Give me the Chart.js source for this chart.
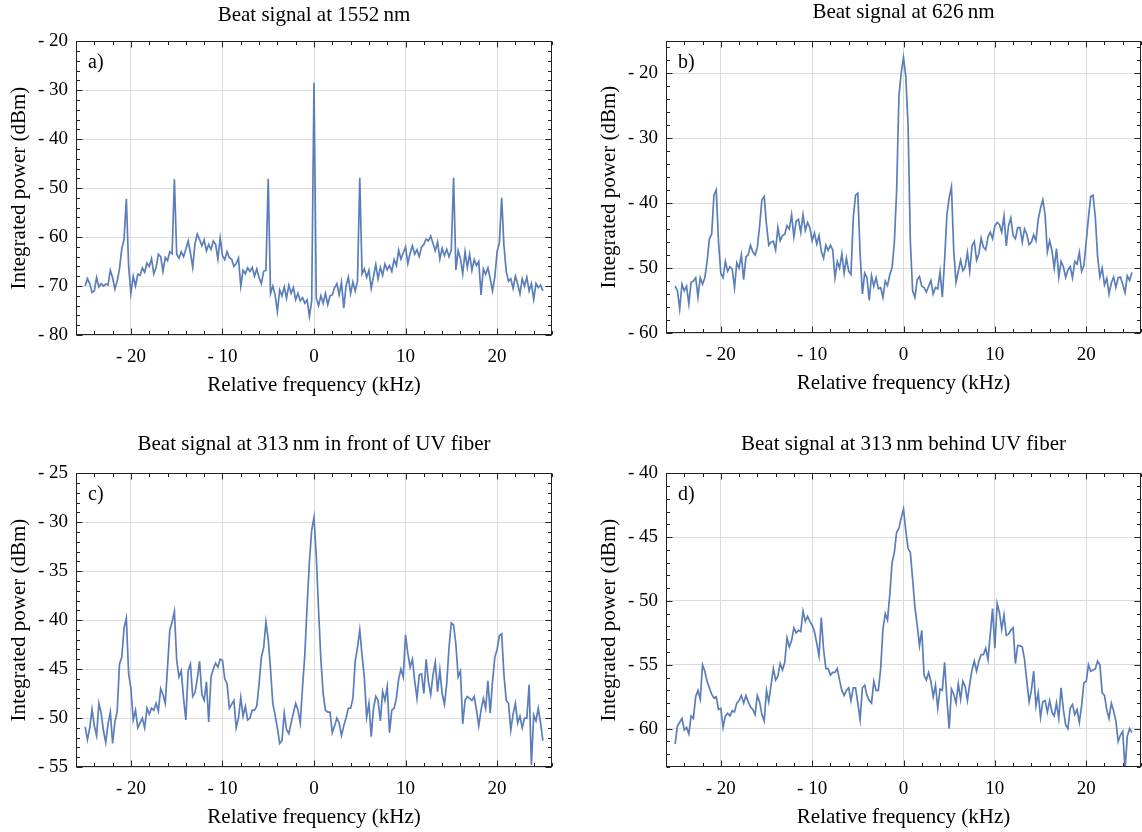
<!DOCTYPE html>
<html lang="en">
<head>
<meta charset="UTF-8">
<title>Beat signals</title>
<script src="https://cdn.jsdelivr.net/npm/chart.js"></script>
<style>
  body { margin: 0; background: #fff; }
  #page { position: relative; width: 1142px; height: 832px; overflow: hidden; }
  .panel { position: absolute; width: 571px; height: 416px; }
</style>
</head>
<body>
<div id="page">
  <div class="panel" style="left:0;top:0"><canvas id="chartA"></canvas></div>
  <div class="panel" style="left:571px;top:0"><canvas id="chartB"></canvas></div>
  <div class="panel" style="left:0;top:416px"><canvas id="chartC"></canvas></div>
  <div class="panel" style="left:571px;top:416px"><canvas id="chartD"></canvas></div>
</div>
<script>
// relative frequency grid (kHz)
const freq = [
  -25,-24.75,-24.5,-24.25,-24,-23.75,-23.5,-23.25,-23,-22.75,-22.5,-22.25,-22,-21.75,-21.5,-21.25,-21,-20.75,-20.5,-20.25,
  -20,-19.75,-19.5,-19.25,-19,-18.75,-18.5,-18.25,-18,-17.75,-17.5,-17.25,-17,-16.75,-16.5,-16.25,-16,-15.75,-15.5,-15.25,
  -15,-14.75,-14.5,-14.25,-14,-13.75,-13.5,-13.25,-13,-12.75,-12.5,-12.25,-12,-11.75,-11.5,-11.25,-11,-10.75,-10.5,-10.25,
  -10,-9.75,-9.5,-9.25,-9,-8.75,-8.5,-8.25,-8,-7.75,-7.5,-7.25,-7,-6.75,-6.5,-6.25,-6,-5.75,-5.5,-5.25,
  -5,-4.75,-4.5,-4.25,-4,-3.75,-3.5,-3.25,-3,-2.75,-2.5,-2.25,-2,-1.75,-1.5,-1.25,-1,-0.75,-0.5,-0.25,
  0,
  0.25,0.5,0.75,1,1.25,1.5,1.75,2,2.25,2.5,2.75,3,3.25,3.5,3.75,4,4.25,4.5,4.75,5,
  5.25,5.5,5.75,6,6.25,6.5,6.75,7,7.25,7.5,7.75,8,8.25,8.5,8.75,9,9.25,9.5,9.75,10,
  10.25,10.5,10.75,11,11.25,11.5,11.75,12,12.25,12.5,12.75,13,13.25,13.5,13.75,14,14.25,14.5,14.75,15,
  15.25,15.5,15.75,16,16.25,16.5,16.75,17,17.25,17.5,17.75,18,18.25,18.5,18.75,19,19.25,19.5,19.75,20,
  20.25,20.5,20.75,21,21.25,21.5,21.75,22,22.25,22.5,22.75,23,23.25,23.5,23.75,24,24.25,24.5,24.75,25
];

// integrated power (dBm), 1552 nm
const powerA = [
  -70.0,-68.5,-69.5,-71.3,-71.0,-68.3,-70.2,-69.5,-70.0,-69.6,-69.8,-66.8,-68.3,-70.6,-69.0,-66.5,-62.4,-60.5,-52.2,-66.0,
  -71.5,-68.0,-70.0,-67.6,-67.8,-66.3,-67.2,-65.3,-66.0,-64.4,-67.5,-66.2,-63.5,-64.0,-67.0,-64.2,-64.8,-63.0,-63.4,-48.2,
  -63.5,-64.3,-63.0,-64.0,-62.5,-60.8,-63.2,-66.2,-61.3,-59.4,-60.5,-61.8,-60.6,-62.8,-61.5,-62.5,-60.8,-61.5,-64.5,-60.2,
  -63.8,-64.6,-63.0,-64.2,-64.5,-66.0,-65.4,-64.3,-70.0,-66.8,-67.5,-66.3,-67.0,-66.2,-68.0,-66.5,-68.3,-69.5,-67.0,-66.8,
  -48.1,-71.5,-70.0,-71.8,-75.2,-70.8,-72.0,-70.2,-72.5,-69.8,-71.5,-70.3,-72.8,-71.5,-73.0,-72.4,-73.5,-72.8,-76.2,-73.0,
  -28.5,
  -72.5,-74.0,-72.0,-73.5,-71.5,-73.8,-72.0,-71.8,-70.3,-69.5,-71.8,-69.2,-74.5,-70.0,-68.2,-71.5,-69.2,-71.0,-69.0,-47.9,
  -67.5,-66.5,-68.2,-66.8,-70.5,-68.0,-65.6,-68.5,-66.2,-67.8,-65.5,-66.7,-65.8,-67.0,-64.6,-65.8,-62.7,-64.5,-63.2,-62.0,
  -65.4,-63.3,-61.8,-63.5,-62.6,-64.0,-62.0,-61.5,-60.4,-60.8,-59.8,-61.3,-62.8,-61.0,-64.5,-62.3,-63.8,-62.5,-64.0,-62.6,
  -47.9,-66.7,-62.8,-64.4,-67.5,-63.0,-66.2,-63.5,-66.8,-64.6,-65.8,-65.0,-71.8,-66.5,-67.6,-66.3,-68.5,-71.0,-68.2,-63.0,
  -61.2,-52.0,-61.7,-67.0,-69.0,-68.5,-70.5,-68.0,-69.6,-71.6,-68.5,-70.0,-68.2,-71.0,-69.5,-72.7,-69.5,-70.3,-69.8,-71.0
];

// 626 nm
const powerB = [
  -52.8,-53.5,-56.3,-52.5,-53.5,-52.8,-55.5,-52.2,-52.0,-51.5,-54.5,-51.5,-52.5,-51.5,-49.0,-45.5,-44.8,-38.8,-38.0,-46.0,
  -50.8,-51.5,-49.0,-50.5,-49.8,-50.2,-53.0,-49.2,-50.0,-48.0,-51.8,-48.3,-48.0,-46.5,-47.5,-48.0,-46.8,-43.5,-39.5,-39.0,
  -43.3,-46.5,-46.0,-45.9,-47.2,-43.8,-45.8,-45.0,-44.8,-43.5,-44.0,-41.8,-45.2,-42.8,-42.5,-44.5,-41.8,-44.2,-43.0,-43.8,
  -45.8,-44.6,-46.3,-45.0,-47.4,-48.5,-46.5,-47.3,-46.5,-47.2,-51.5,-49.0,-50.0,-47.8,-50.8,-48.5,-50.5,-51.0,-42.3,-38.8,
  -38.5,-47.8,-54.0,-50.8,-51.5,-55.0,-51.2,-52.8,-51.5,-53.2,-53.0,-54.5,-52.0,-52.7,-51.0,-50.0,-46.0,-38.0,-23.5,-20.0,
  -17.6,
  -20.5,-28.0,-46.0,-53.5,-54.5,-51.8,-51.3,-52.8,-53.0,-53.7,-52.8,-51.9,-54.0,-53.0,-53.2,-50.6,-54.5,-48.8,-41.8,-39.2,
  -37.5,-47.4,-52.2,-50.5,-48.8,-50.4,-49.8,-47.6,-50.5,-46.6,-45.9,-48.8,-47.8,-45.4,-46.8,-47.2,-45.2,-44.5,-45.5,-43.5,
  -43.0,-43.3,-44.5,-42.0,-46.6,-43.5,-42.3,-45.0,-45.5,-43.8,-43.8,-46.0,-44.0,-44.8,-46.4,-46.0,-44.9,-45.8,-42.5,-40.8,
  -39.5,-41.8,-47.5,-45.8,-47.3,-50.0,-47.0,-51.4,-49.0,-49.8,-51.4,-50.3,-49.8,-51.5,-49.0,-49.4,-47.6,-50.5,-49.6,-46.0,
  -42.2,-39.0,-38.8,-42.2,-48.3,-51.4,-50.0,-52.6,-51.6,-54.0,-52.3,-51.4,-53.0,-51.5,-51.4,-52.5,-53.8,-51.2,-51.9,-50.7
];

// 313 nm in front of UV fiber
const powerC = [
  -50.9,-52.2,-51.0,-49.1,-50.8,-51.8,-48.5,-49.5,-51.3,-52.5,-50.6,-49.4,-52.6,-50.4,-49.3,-44.5,-43.8,-40.8,-39.8,-45.5,
  -47.0,-50.2,-49.2,-51.0,-50.5,-50.0,-51.0,-49.0,-49.6,-49.0,-49.2,-48.5,-49.3,-47.0,-47.6,-48.5,-44.8,-41.0,-40.2,-39.1,
  -44.1,-45.8,-45.2,-48.0,-50.2,-45.2,-44.5,-47.8,-47.4,-46.0,-44.2,-47.6,-48.2,-46.3,-50.4,-45.8,-45.0,-44.4,-44.8,-44.0,
  -44.1,-46.0,-46.5,-49.0,-48.6,-48.2,-51.0,-50.0,-47.9,-49.8,-48.8,-50.2,-50.0,-49.2,-49.2,-48.8,-46.5,-43.8,-42.8,-40.2,
  -42.0,-45.0,-48.5,-49.7,-51.0,-52.6,-52.3,-49.5,-51.2,-51.6,-50.5,-49.5,-48.5,-49.2,-50.5,-46.8,-43.5,-38.5,-34.0,-30.8,
  -29.5,
  -33.5,-39.0,-44.0,-47.5,-49.2,-49.4,-49.4,-51.5,-50.8,-50.0,-50.5,-51.8,-50.8,-50.0,-49.0,-49.0,-48.0,-44.2,-42.8,-41.0,
  -43.6,-45.9,-49.9,-48.5,-51.9,-49.0,-47.8,-48.2,-50.3,-47.3,-48.2,-46.8,-51.5,-49.2,-49.0,-48.0,-46.0,-45.0,-45.8,-41.5,
  -43.4,-44.8,-44.0,-46.2,-48.0,-45.6,-45.5,-47.5,-44.0,-46.3,-47.6,-45.6,-44.3,-47.3,-45.1,-47.5,-48.6,-46.5,-42.8,-40.3,
  -40.5,-42.5,-45.8,-45.2,-50.6,-48.2,-47.8,-48.0,-48.2,-47.8,-49.2,-50.8,-49.2,-48.0,-49.0,-46.2,-49.5,-46.3,-43.8,-43.0,
  -41.6,-41.4,-45.6,-48.2,-48.5,-51.2,-49.6,-48.5,-50.5,-49.8,-51.0,-50.0,-50.0,-46.6,-54.8,-49.7,-50.3,-49.0,-50.5,-52.3
];

// 313 nm behind UV fiber
const powerD = [
  -61.2,-59.8,-59.5,-59.2,-60.1,-59.9,-60.4,-59.0,-59.2,-57.5,-57.0,-57.7,-55.0,-55.5,-56.3,-56.8,-57.3,-57.6,-57.5,-58.5,
  -58.4,-59.9,-59.0,-58.8,-59.0,-58.6,-58.7,-58.0,-57.8,-57.4,-58.0,-57.4,-57.9,-58.3,-58.5,-58.9,-57.4,-57.9,-58.9,-59.4,
  -57.0,-57.9,-56.6,-55.3,-56.2,-55.9,-54.9,-55.4,-54.8,-52.9,-53.6,-53.1,-52.1,-52.5,-52.3,-52.4,-50.8,-51.6,-51.2,-51.6,
  -51.9,-52.4,-53.3,-54.3,-51.3,-53.8,-55.3,-55.3,-55.8,-55.6,-55.6,-55.3,-56.2,-57.0,-57.4,-57.0,-56.8,-57.8,-56.8,-56.8,
  -58.0,-59.3,-56.8,-56.6,-57.4,-57.8,-58.0,-56.3,-57.0,-57.0,-55.3,-52.2,-51.0,-51.5,-49.5,-47.0,-46.2,-44.6,-44.3,-43.5,
  -42.8,
  -44.5,-45.9,-46.2,-48.3,-50.5,-51.9,-53.5,-52.3,-55.8,-56.2,-55.6,-56.3,-57.5,-56.6,-58.4,-56.9,-57.0,-54.8,-57.7,-60.0,
  -56.9,-57.3,-58.0,-56.5,-57.7,-56.3,-56.7,-57.8,-56.5,-55.4,-54.7,-55.5,-54.7,-54.2,-54.2,-53.7,-54.6,-52.6,-50.6,-53.7,
  -50.2,-50.9,-52.2,-51.1,-52.7,-52.6,-52.3,-52.1,-54.9,-53.5,-53.5,-53.6,-54.6,-56.3,-57.9,-57.0,-55.5,-58.2,-57.2,-59.1,
  -57.9,-57.8,-58.7,-57.8,-58.7,-59.0,-58.0,-59.2,-56.8,-58.5,-59.7,-60.0,-58.4,-58.1,-58.9,-58.5,-59.5,-58.2,-56.4,-56.3,
  -55.0,-55.5,-55.4,-55.3,-54.7,-55.0,-57.2,-57.4,-58.5,-59.2,-58.0,-58.6,-59.4,-61.0,-60.5,-60.2,-63.2,-60.6,-60.0,-60.3
];

const xTicks = [-20, -10, 0, 10, 20];
const titles = [
  'Beat signal at 1552\u2009nm',
  'Beat signal at 626\u2009nm',
  'Beat signal at 313\u2009nm in front of UV fiber',
  'Beat signal at 313\u2009nm behind UV fiber'
];
const letters = ['a)', 'b)', 'c)', 'd)'];

const FONT = '"Liberation Serif", "Times New Roman", serif';
Chart.defaults.font.family = FONT;
Chart.defaults.color = '#000';

const fmt = v => (v < 0 ? '- ' + Math.abs(v) : String(v));

// frame, inward ticks (major + minor) on all four sides, panel letter
const framePlugin = {
  id: 'frame',
  afterDraw(chart, args, opts) {
    const { ctx, chartArea: a, scales: { x, y } } = chart;
    const L = Math.round(a.left) + 0.5, R = Math.round(a.right) - 0.5;
    const T = Math.round(a.top) + 0.5, B = Math.round(a.bottom) - 0.5;
    ctx.save();
    ctx.strokeStyle = '#222';
    ctx.lineWidth = 1;
    ctx.strokeRect(L, T, R - L, B - T);
    ctx.beginPath();
    for (let v = -26; v <= 26; v += 2) {
      const px = Math.round(x.getPixelForValue(v)) + 0.5;
      const len = v % 10 === 0 ? 6 : 3.5;
      ctx.moveTo(px, B); ctx.lineTo(px, B - len);
      ctx.moveTo(px, T); ctx.lineTo(px, T + len);
    }
    const start = Math.ceil(y.min / opts.minor) * opts.minor;
    for (let v = start; v <= y.max; v += opts.minor) {
      const py = Math.round(y.getPixelForValue(v)) + 0.5;
      const len = v % opts.major === 0 ? 6 : 3.5;
      ctx.moveTo(L, py); ctx.lineTo(L + len, py);
      ctx.moveTo(R, py); ctx.lineTo(R - len, py);
    }
    ctx.stroke();
    ctx.fillStyle = '#000';
    ctx.font = '20px ' + FONT;
    ctx.textBaseline = 'alphabetic';
    ctx.fillText(opts.letter, a.left + 12, a.top + 27);
    ctx.restore();
  }
};

const panelSetup = [
  { id: 'chartA', data: powerA, yMin: -80, yMax: -20, major: 10, minor: 2,
    yWidth: 76, xHeight: 81, padRight: 19, titlePad: { top: 3, bottom: 13 }, yTitlePad: 7, xTitlePad: 18 },
  { id: 'chartB', data: powerB, yMin: -60, yMax: -15.1, major: 10, minor: 2,
    yWidth: 95, xHeight: 83, padRight: 1, titlePad: { top: 0, bottom: 16 }, yTitlePad: 26, xTitlePad: 20 },
  { id: 'chartC', data: powerC, yMin: -55, yMax: -25, major: 5, minor: 1,
    yWidth: 76, xHeight: 65, padRight: 19, titlePad: { top: 16, bottom: 16 }, yTitlePad: 7, xTitlePad: 2 },
  { id: 'chartD', data: powerD, yMin: -63, yMax: -40, major: 5, minor: 1,
    yWidth: 95, xHeight: 65, padRight: 1, titlePad: { top: 16, bottom: 16 }, yTitlePad: 26, xTitlePad: 2 }
];

panelSetup.forEach((p, i) => {
  new Chart(document.getElementById(p.id), {
    type: 'line',
    data: {
      datasets: [{
        data: freq.map((f, k) => ({ x: f, y: p.data[k] })),
        borderColor: '#5a7eba',
        borderWidth: 1.7,
        pointRadius: 0,
        tension: 0,
        fill: false
      }]
    },
    options: {
      responsive: true,
      maintainAspectRatio: false,
      animation: false,
      layout: { padding: { left: 0, right: p.padRight, top: 0, bottom: 0 } },
      scales: {
        x: {
          type: 'linear',
          min: -26,
          max: 26,
          afterFit: s => { s.height = p.xHeight; },
          afterBuildTicks: s => { s.ticks = xTicks.map(v => ({ value: v })); },
          grid: { color: '#dcdcdc', drawTicks: false },
          border: { display: false },
          ticks: { callback: fmt, padding: 11, maxRotation: 0, font: { size: 19 } },
          title: { display: true, text: 'Relative frequency (kHz)', font: { size: 21 },
                   padding: { top: 0, bottom: p.xTitlePad } }
        },
        y: {
          type: 'linear',
          min: p.yMin,
          max: p.yMax,
          afterFit: s => { s.width = p.yWidth; },
          grid: { color: '#dcdcdc', drawTicks: false },
          border: { display: false },
          ticks: { stepSize: p.major, includeBounds: false, callback: fmt, padding: 8, font: { size: 19 } },
          title: { display: true, text: 'Integrated power (dBm)', font: { size: 21 },
                   padding: { top: p.yTitlePad, bottom: 0 } }
        }
      },
      plugins: {
        legend: { display: false },
        tooltip: { enabled: false },
        title: { display: true, text: titles[i], fullSize: false, font: { size: 21, weight: 'normal' },
                 padding: p.titlePad },
        frame: { letter: letters[i], major: p.major, minor: p.minor }
      }
    },
    plugins: [framePlugin]
  });
});
</script>
</body>
</html>
